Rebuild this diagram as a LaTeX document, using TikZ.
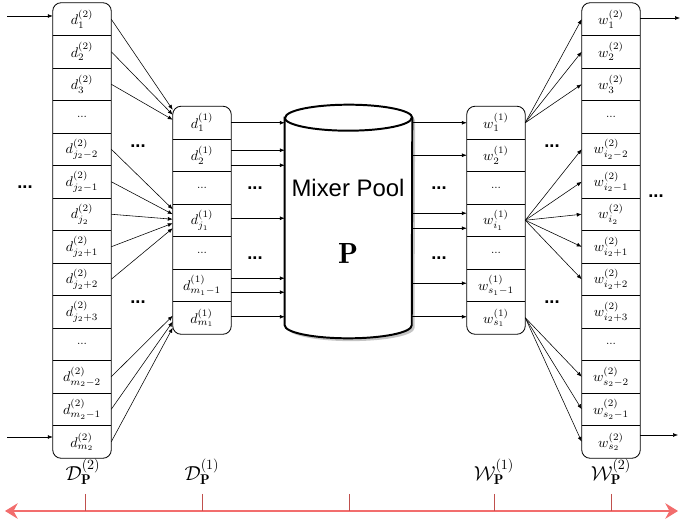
\documentclass[tikz,border=0pt]{standalone}
\usepackage{fontspec}
\setsansfont{Liberation Sans}
\usetikzlibrary{arrows.meta,shadows}
\definecolor{axisred}{HTML}{F26D6D}
\definecolor{tickred}{HTML}{C0504D}
\newcommand{\celldots}{{\footnotesize ...}}
\tikzset{
  cell/.style={minimum width=1.45cm, minimum height=0.8125cm, inner sep=0pt},
  frame/.style={draw, semithick, rounded corners=6pt},
  conn/.style={-{Latex[length=3.5pt,width=2.8pt]}, thin},
  bigdots/.style={font=\sffamily\bfseries\fontsize{13}{13}\selectfont},
  rim/.style={x radius=1.5875cm, y radius=0.325cm},
}

\begin{document}
\begin{tikzpicture}[x=0.025cm, y=-0.025cm]
  \useasboundingbox (0,0) rectangle (680,525);

  % columns
  \foreach \lab [count=\i] in {{$d^{(2)}_{1}$},{$d^{(2)}_{2}$},{$d^{(2)}_{3}$},\celldots,
      {$d^{(2)}_{j_2-2}$},{$d^{(2)}_{j_2-1}$},{$d^{(2)}_{j_2}$},{$d^{(2)}_{j_2+1}$},{$d^{(2)}_{j_2+2}$},
      {$d^{(2)}_{j_2+3}$},\celldots,{$d^{(2)}_{m_2-2}$},{$d^{(2)}_{m_2-1}$},{$d^{(2)}_{m_2}$}}
    \node[cell] (dtwo\i) at (82,{3+(\i-0.5)*32.5}) {\lab};
  \foreach \lab [count=\i] in {{$d^{(1)}_{1}$},{$d^{(1)}_{2}$},\celldots,{$d^{(1)}_{j_1}$},
      \celldots,{$d^{(1)}_{m_1-1}$},{$d^{(1)}_{m_1}$}}
    \node[cell] (done\i) at (202,{106.5+(\i-0.5)*32.5}) {\lab};
  \foreach \lab [count=\i] in {{$w^{(1)}_{1}$},{$w^{(1)}_{2}$},\celldots,{$w^{(1)}_{i_1}$},
      \celldots,{$w^{(1)}_{s_1-1}$},{$w^{(1)}_{s_1}$}}
    \node[cell] (wone\i) at (496,{106.5+(\i-0.5)*32.5}) {\lab};
  \foreach \lab [count=\i] in {{$w^{(2)}_{1}$},{$w^{(2)}_{2}$},{$w^{(2)}_{3}$},\celldots,
      {$w^{(2)}_{i_2-2}$},{$w^{(2)}_{i_2-1}$},{$w^{(2)}_{i_2}$},{$w^{(2)}_{i_2+1}$},{$w^{(2)}_{i_2+2}$},
      {$w^{(2)}_{i_2+3}$},\celldots,{$w^{(2)}_{s_2-2}$},{$w^{(2)}_{s_2-1}$},{$w^{(2)}_{s_2}$}}
    \node[cell] (wtwo\i) at (611,{3+(\i-0.5)*32.5}) {\lab};

  \draw[frame] (dtwo1.north west) rectangle (dtwo14.south east);
  \draw[frame] (done1.north west) rectangle (done7.south east);
  \draw[frame] (wone1.north west) rectangle (wone7.south east);
  \draw[frame] (wtwo1.north west) rectangle (wtwo14.south east);
  \foreach \i in {1,...,13} {
    \draw[semithick] (dtwo\i.south west) -- (dtwo\i.south east);
    \draw[semithick] (wtwo\i.south west) -- (wtwo\i.south east);
  }
  \foreach \i in {1,...,6} {
    \draw[semithick] (done\i.south west) -- (done\i.south east);
    \draw[semithick] (wone\i.south west) -- (wone\i.south east);
  }

  % mixer pool
  \node[minimum width=3.175cm, minimum height=5.825cm, inner sep=0pt] (pool) at (348.5,221.5) {};
  \path[draw, line width=1.4pt, fill=white,
        drop shadow={shadow xshift=2pt, shadow yshift=-2pt, fill=black!45}]
    ([yshift=-0.325cm]pool.north west) -- ([yshift=0.325cm]pool.south west)
    arc[start angle=180, end angle=360, rim]
    -- ([yshift=-0.325cm]pool.north east)
    arc[start angle=0, end angle=180, rim] -- cycle;
  \draw[line width=1.4pt] ([yshift=-0.325cm]pool.north west) arc[start angle=180, end angle=360, rim];
  \node[font=\sffamily\fontsize{17}{20}\selectfont] (pooltitle) at (348,188) {Mixer Pool};
  \node[font=\huge] (poolsym) at (348,253) {$\mathbf{P}$};

  % connections
  \foreach \s/\t/\dy in {1/1/0.325, 2/1/0.2, 3/1/0.075, 5/4/0.275, 6/4/0.15, 7/4/0.025,
      8/4/-0.075, 9/4/-0.2, 12/7/0.05, 13/7/-0.1, 14/7/-0.25}
    \draw[conn] (dtwo\s.east) -- ([yshift=\dy cm]done\t.west);
  \foreach \s/\dy in {1/0, 2/0.125, 2/-0.25, 4/0.05, 6/0.175, 6/-0.175, 7/0.025}
    \draw[conn] ([yshift=\dy cm]done\s.east) -- ([yshift=\dy cm]done\s.east -| pool.west);
  \foreach \t/\dy in {1/0, 2/0, 4/0.175, 4/-0.2, 6/0.05, 7/0.025}
    \draw[conn] ([yshift=\dy cm]wone\t.west -| pool.east) -- ([yshift=\dy cm]wone\t.west);
  \foreach \s/\t in {1/1, 1/2, 1/3, 4/5, 4/6, 4/7, 4/8, 4/9, 7/12, 7/13, 7/14}
    \draw[conn] (wone\s.east) -- (wtwo\t.west);

  \coordinate (inTop) at (7,16);
  \coordinate (inBot) at (7,437);
  \coordinate (outTop) at (680,18);
  \coordinate (outBot) at (678,435);
  \draw[conn] (inTop) -- (inTop -| dtwo1.west);
  \draw[conn] (inBot) -- (inBot -| dtwo14.west);
  \draw[conn] (outTop -| wtwo1.east) -- (outTop);
  \draw[conn] (outBot -| wtwo14.east) -- (outBot);

  \foreach \x/\y [count=\k] in {25/187, 138/146, 138/302, 255/188, 255/258,
      439/188, 439/258, 552/146, 552/302, 656/196}
    \node[bigdots] (gap\k) at (\x,\y) {...};

  % sets and axis
  \node[font=\Large] (setDtwo) at (83,472) {$\mathcal{D}^{(2)}_{\mathbf{P}}$};
  \node[font=\Large] (setDone) at (202,472) {$\mathcal{D}^{(1)}_{\mathbf{P}}$};
  \node[font=\Large] (setWone) at (494,472) {$\mathcal{W}^{(1)}_{\mathbf{P}}$};
  \node[font=\Large] (setWtwo) at (611,472) {$\mathcal{W}^{(2)}_{\mathbf{P}}$};
  \coordinate (axL) at (5,511);
  \coordinate (axR) at (678,511);
  \draw[axisred, line width=1.4pt, {Stealth[length=9pt,width=11pt]}-{Stealth[length=9pt,width=11pt]}] (axL) -- (axR);
  \foreach \x in {85,202,349,494,611}
    \draw[tickred, thin] (\x,494) -- (\x,511);
\end{tikzpicture}
\end{document}
